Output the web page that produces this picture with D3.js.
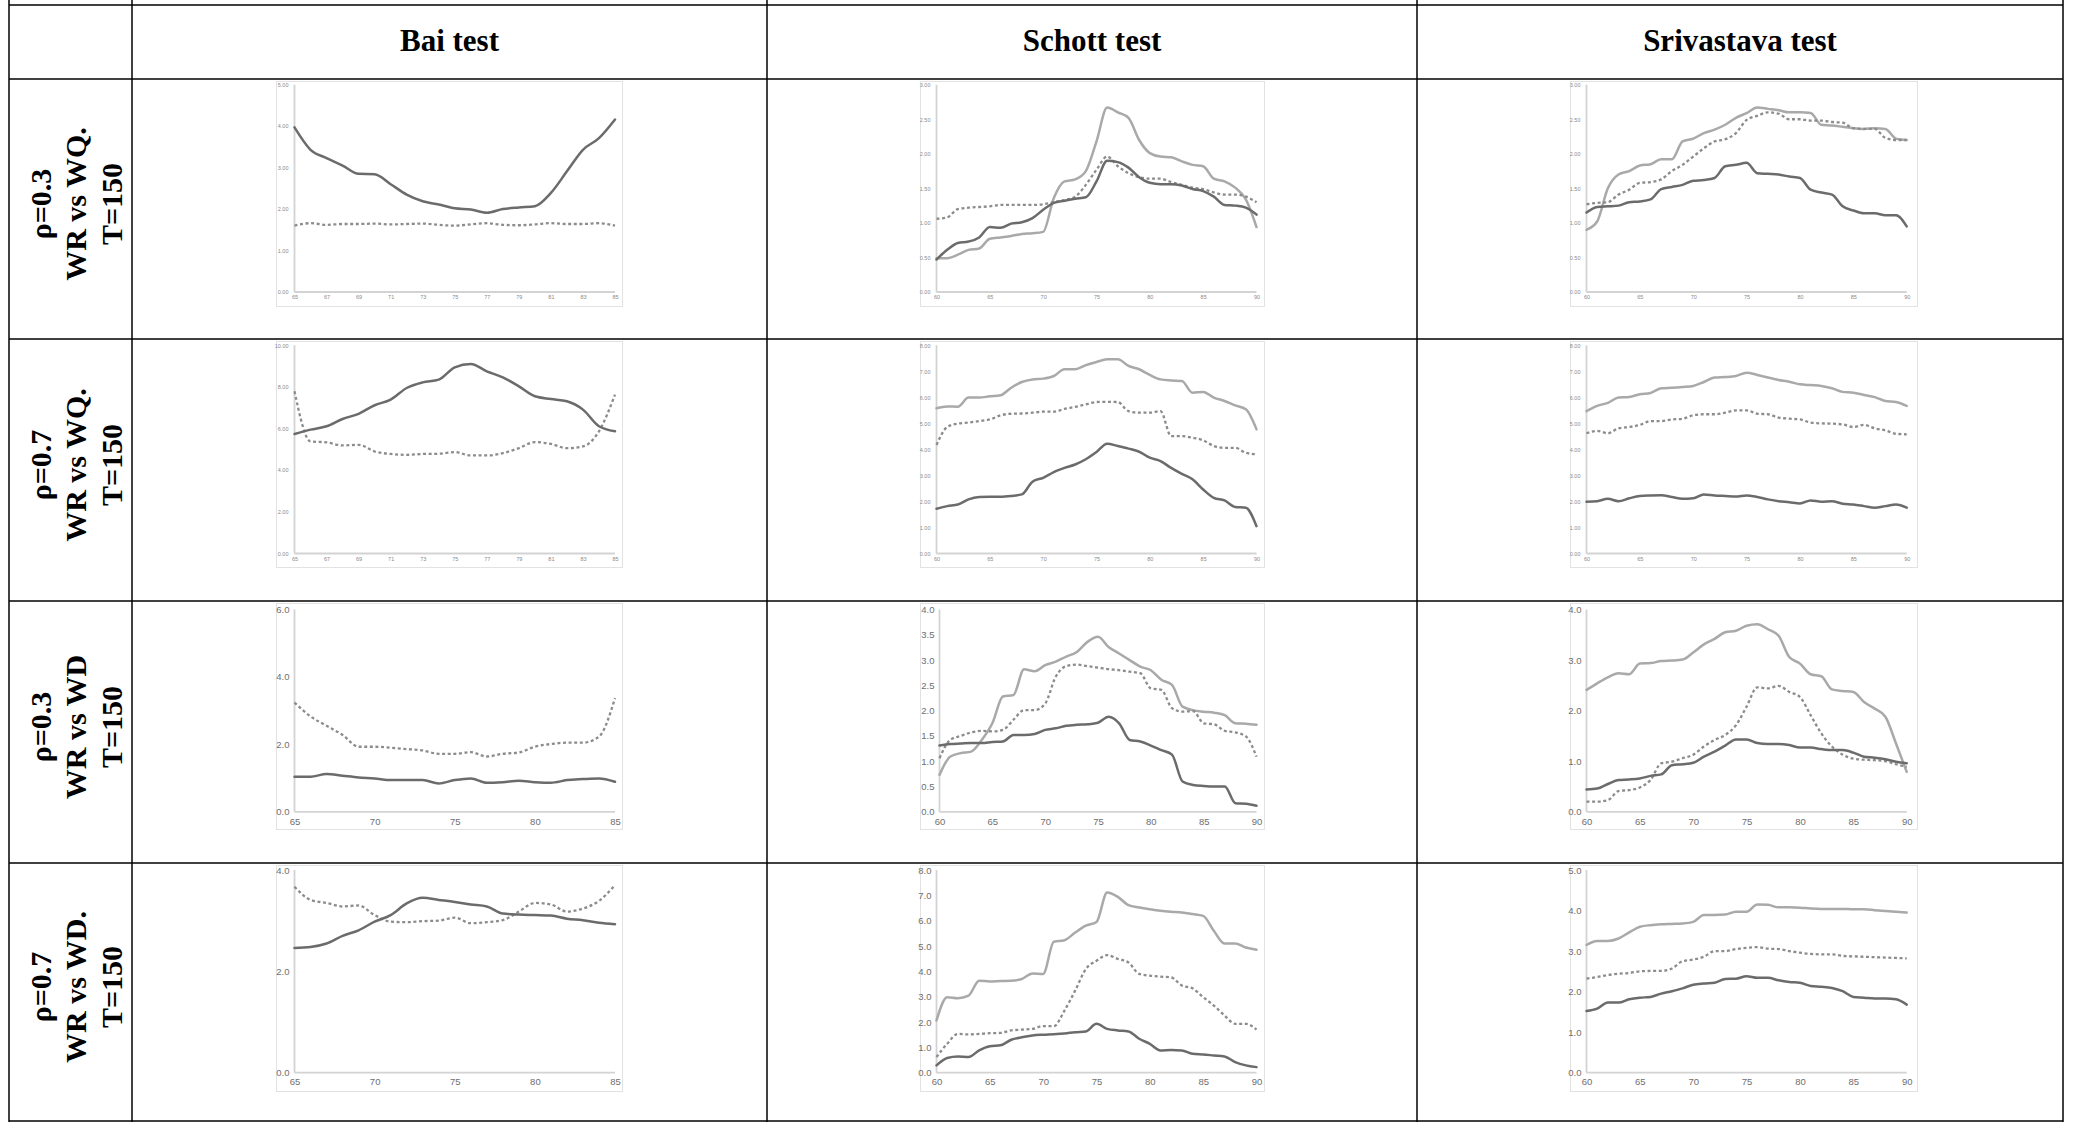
<!DOCTYPE html>
<html><head><meta charset="utf-8">
<script src="https://cdn.jsdelivr.net/npm/d3@7"></script>
<style>body{margin:0;background:#fff}svg{display:block}</style></head>
<body><svg id="c" width="2078" height="1122"></svg>
<script>
// ---------- DATA ----------
const colHeaders = ["Bai test", "Schott test", "Srivastava test"];
const rowLabels = [
  ["ρ=0.3", "WR vs WQ.", "T=150"],
  ["ρ=0.7", "WR vs WQ.", "T=150"],
  ["ρ=0.3", "WR vs WD", "T=150"],
  ["ρ=0.7", "WR vs WD.", "T=150"]
];
const yearsBai  = [65,66,67,68,69,70,71,72,73,74,75,76,77,78,79,80,81,82,83,84,85];
const yearsLong = [60,61,62,63,64,65,66,67,68,69,70,71,72,73,74,75,76,77,78,79,80,81,82,83,84,85,86,87,88,89,90];

const xTicksBai2 = [65,67,69,71,73,75,77,79,81,83,85];
const xTicksBai5 = [65,70,75,80,85];
const xTicksLong = [60,65,70,75,80,85,90];

const yTicksBai1 = [0,1,2,3,4,5];
const yTicksSchott1 = [0,0.5,1,1.5,2,2.5,3];
const yTicksSriv1 = [0,0.5,1,1.5,2,2.5,3];
const yTicksBai2 = [0,2,4,6,8,10];
const yTicksSchott2 = [0,1,2,3,4,5,6,7,8];
const yTicksSriv2 = [0,1,2,3,4,5,6,7,8];
const yTicksBai3 = [0,2,4,6];
const yTicksSchott3 = [0,0.5,1,1.5,2,2.5,3,3.5,4];
const yTicksSriv3 = [0,1,2,3,4];
const yTicksBai4 = [0,2,4];
const yTicksSchott4 = [0,1,2,3,4,5,6,7,8];
const yTicksSriv4 = [0,1,2,3,4,5];

// Row 1: rho=0.3, WR vs WQ
const bai1Dark = [3.97,3.43,3.23,3.05,2.85,2.84,2.60,2.35,2.19,2.11,2.02,1.99,1.91,2.00,2.04,2.07,2.39,2.91,3.43,3.71,4.16];
const bai1Dash = [1.60,1.66,1.62,1.64,1.64,1.65,1.63,1.64,1.65,1.62,1.60,1.63,1.66,1.62,1.61,1.63,1.66,1.64,1.64,1.66,1.60];
const schott1Dark  = [0.47,0.61,0.71,0.73,0.79,0.94,0.93,0.99,1.01,1.07,1.19,1.29,1.32,1.35,1.37,1.60,1.90,1.88,1.80,1.66,1.58,1.56,1.56,1.54,1.49,1.46,1.38,1.26,1.25,1.22,1.12];
const schott1Dash  = [1.06,1.08,1.20,1.22,1.23,1.24,1.26,1.26,1.26,1.26,1.27,1.30,1.33,1.38,1.55,1.77,1.96,1.82,1.72,1.66,1.64,1.64,1.59,1.55,1.51,1.49,1.44,1.41,1.41,1.38,1.30];
const schott1Light = [0.49,0.49,0.54,0.61,0.63,0.77,0.79,0.81,0.84,0.85,0.87,1.36,1.60,1.63,1.75,2.18,2.67,2.60,2.52,2.20,2.01,1.96,1.95,1.89,1.84,1.82,1.64,1.60,1.51,1.34,0.94];
const sriv1Dark  = [1.15,1.23,1.24,1.25,1.30,1.31,1.34,1.49,1.52,1.55,1.61,1.62,1.65,1.82,1.84,1.87,1.72,1.71,1.70,1.67,1.65,1.48,1.44,1.41,1.24,1.18,1.14,1.14,1.11,1.11,0.95];
const sriv1Dash  = [1.27,1.29,1.30,1.41,1.48,1.58,1.59,1.63,1.75,1.84,1.96,2.08,2.18,2.21,2.30,2.49,2.55,2.60,2.58,2.50,2.50,2.48,2.48,2.46,2.45,2.37,2.36,2.36,2.23,2.20,2.20];
const sriv1Light = [0.90,1.02,1.50,1.70,1.75,1.83,1.85,1.92,1.92,2.18,2.22,2.30,2.35,2.42,2.52,2.59,2.67,2.65,2.63,2.60,2.60,2.59,2.42,2.41,2.39,2.37,2.36,2.37,2.36,2.22,2.20];

// Row 2: rho=0.7, WR vs WQ
const bai2Dark = [5.74,5.95,6.11,6.46,6.71,7.12,7.39,7.95,8.22,8.35,8.94,9.10,8.75,8.46,8.03,7.55,7.42,7.31,6.91,6.11,5.87];
const bai2Dash = [7.79,5.38,5.34,5.19,5.22,4.90,4.78,4.74,4.78,4.79,4.87,4.71,4.71,4.82,5.06,5.35,5.26,5.06,5.14,5.87,7.63];
const schott2Dark  = [1.72,1.82,1.88,2.08,2.17,2.18,2.18,2.21,2.27,2.76,2.91,3.13,3.29,3.42,3.62,3.90,4.22,4.13,4.03,3.91,3.68,3.55,3.29,3.06,2.85,2.46,2.14,2.04,1.79,1.76,1.05];
const schott2Dash  = [4.17,4.86,4.99,5.03,5.09,5.15,5.31,5.37,5.38,5.41,5.45,5.45,5.56,5.63,5.73,5.82,5.83,5.82,5.47,5.41,5.41,5.47,4.51,4.51,4.45,4.35,4.13,4.06,4.06,3.87,3.81];
const schott2Light = [5.58,5.65,5.64,5.99,5.99,6.04,6.08,6.37,6.59,6.69,6.72,6.82,7.08,7.08,7.24,7.36,7.46,7.46,7.21,7.08,6.86,6.69,6.65,6.63,6.18,6.21,5.99,5.86,5.69,5.54,4.77];
const sriv2Dark  = [1.99,2.01,2.10,2.01,2.12,2.21,2.23,2.24,2.17,2.10,2.12,2.27,2.23,2.21,2.19,2.23,2.17,2.08,2.01,1.97,1.92,2.04,1.99,2.01,1.91,1.88,1.82,1.76,1.82,1.88,1.76];
const sriv2Dash  = [4.62,4.71,4.62,4.81,4.86,4.94,5.09,5.09,5.15,5.18,5.31,5.35,5.35,5.41,5.50,5.50,5.37,5.35,5.22,5.18,5.15,5.03,5.00,4.99,4.96,4.86,4.94,4.81,4.73,4.60,4.58];
const sriv2Light = [5.47,5.67,5.79,5.99,6.01,6.12,6.17,6.35,6.37,6.40,6.44,6.59,6.76,6.78,6.82,6.95,6.86,6.76,6.67,6.60,6.50,6.47,6.44,6.35,6.21,6.18,6.09,6.01,5.86,5.82,5.67];

// Row 3: rho=0.3, WR vs WD
const bai3Dark = [1.04,1.04,1.12,1.07,1.02,0.99,0.94,0.94,0.94,0.84,0.94,0.99,0.86,0.88,0.92,0.88,0.86,0.94,0.97,0.99,0.89];
const bai3Dash = [3.24,2.83,2.55,2.28,1.93,1.93,1.90,1.86,1.82,1.72,1.72,1.77,1.64,1.72,1.76,1.93,2.01,2.05,2.05,2.23,3.37];
const schott3Dark  = [1.31,1.34,1.35,1.36,1.36,1.38,1.39,1.52,1.52,1.54,1.62,1.65,1.70,1.72,1.73,1.76,1.88,1.75,1.42,1.39,1.31,1.22,1.13,0.60,0.53,0.51,0.50,0.50,0.17,0.16,0.12];
const schott3Dash  = [1.06,1.42,1.50,1.57,1.60,1.59,1.62,1.82,2.01,2.01,2.14,2.67,2.88,2.91,2.88,2.85,2.82,2.80,2.77,2.74,2.44,2.41,2.05,1.98,1.99,1.75,1.73,1.60,1.57,1.49,1.09];
const schott3Light = [0.73,1.09,1.16,1.19,1.42,1.75,2.28,2.31,2.82,2.78,2.90,2.97,3.07,3.16,3.36,3.46,3.26,3.13,3.00,2.87,2.80,2.61,2.51,2.08,2.01,1.98,1.96,1.91,1.75,1.74,1.72];
const sriv3Dark  = [0.44,0.46,0.55,0.63,0.64,0.66,0.71,0.74,0.92,0.94,0.97,1.09,1.19,1.31,1.43,1.43,1.36,1.34,1.34,1.32,1.27,1.27,1.24,1.22,1.22,1.17,1.09,1.07,1.04,0.99,0.96];
const sriv3Dash  = [0.20,0.20,0.23,0.41,0.43,0.48,0.63,0.96,0.99,1.06,1.13,1.29,1.42,1.52,1.71,2.08,2.46,2.44,2.49,2.37,2.27,1.91,1.55,1.29,1.13,1.05,1.03,1.02,1.00,0.94,0.89];
const sriv3Light = [2.41,2.54,2.66,2.74,2.72,2.93,2.94,2.98,2.99,3.01,3.15,3.31,3.42,3.55,3.58,3.68,3.71,3.61,3.48,3.06,2.93,2.72,2.68,2.42,2.39,2.37,2.17,2.04,1.88,1.35,0.79];

// Row 4: rho=0.7, WR vs WD
const bai4Dark = [2.46,2.48,2.55,2.70,2.81,2.98,3.11,3.34,3.45,3.41,3.37,3.32,3.28,3.14,3.12,3.11,3.10,3.04,3.01,2.96,2.93];
const bai4Dash = [3.67,3.41,3.35,3.28,3.30,3.11,2.98,2.97,2.99,3.00,3.06,2.95,2.97,3.01,3.18,3.35,3.32,3.18,3.24,3.39,3.70];
const schott4Dark  = [0.29,0.58,0.64,0.62,0.88,1.04,1.08,1.30,1.40,1.47,1.50,1.52,1.55,1.60,1.63,1.93,1.73,1.67,1.63,1.34,1.14,0.88,0.90,0.88,0.75,0.72,0.68,0.64,0.42,0.29,0.22];
const schott4Dash  = [0.62,1.14,1.53,1.51,1.53,1.56,1.57,1.67,1.70,1.73,1.84,1.84,2.45,3.24,4.09,4.42,4.64,4.49,4.35,3.90,3.83,3.79,3.76,3.44,3.33,2.98,2.65,2.26,1.93,1.93,1.70];
const schott4Light = [2.06,2.98,2.94,3.04,3.63,3.60,3.62,3.63,3.70,3.92,3.90,5.17,5.23,5.53,5.80,5.95,7.11,6.94,6.61,6.52,6.45,6.39,6.35,6.32,6.26,6.19,5.60,5.10,5.10,4.94,4.85];
const sriv4Dark  = [1.52,1.58,1.73,1.73,1.81,1.85,1.87,1.95,2.01,2.08,2.17,2.20,2.22,2.31,2.32,2.38,2.34,2.34,2.28,2.24,2.22,2.14,2.12,2.09,2.01,1.87,1.85,1.83,1.83,1.81,1.68];
const sriv4Dash  = [2.32,2.36,2.41,2.44,2.46,2.50,2.51,2.51,2.57,2.75,2.79,2.86,3.00,3.00,3.05,3.08,3.10,3.06,3.05,3.00,2.96,2.93,2.92,2.92,2.88,2.87,2.86,2.85,2.84,2.83,2.82];
const sriv4Light = [3.15,3.25,3.25,3.31,3.46,3.60,3.64,3.66,3.67,3.68,3.72,3.89,3.89,3.90,3.97,3.97,4.15,4.14,4.08,4.08,4.07,4.05,4.04,4.04,4.04,4.03,4.03,4.01,3.99,3.97,3.95];

// ---------- PANEL WIRING ----------
const panels = [
  {r:0,c:0,x:yearsBai, xt:xTicksBai2, yt:yTicksBai1,   fmt:".2f", s:[["dash",bai1Dash],["dark",bai1Dark]]},
  {r:0,c:1,x:yearsLong,xt:xTicksLong, yt:yTicksSchott1,fmt:".2f", s:[["light",schott1Light],["dash",schott1Dash],["dark",schott1Dark]]},
  {r:0,c:2,x:yearsLong,xt:xTicksLong, yt:yTicksSriv1,  fmt:".2f", s:[["light",sriv1Light],["dash",sriv1Dash],["dark",sriv1Dark]]},
  {r:1,c:0,x:yearsBai, xt:xTicksBai2, yt:yTicksBai2,   fmt:".2f", s:[["dash",bai2Dash],["dark",bai2Dark]]},
  {r:1,c:1,x:yearsLong,xt:xTicksLong, yt:yTicksSchott2,fmt:".2f", s:[["light",schott2Light],["dash",schott2Dash],["dark",schott2Dark]]},
  {r:1,c:2,x:yearsLong,xt:xTicksLong, yt:yTicksSriv2,  fmt:".2f", s:[["light",sriv2Light],["dash",sriv2Dash],["dark",sriv2Dark]]},
  {r:2,c:0,x:yearsBai, xt:xTicksBai5, yt:yTicksBai3,   fmt:".1f", s:[["dash",bai3Dash],["dark",bai3Dark]]},
  {r:2,c:1,x:yearsLong,xt:xTicksLong, yt:yTicksSchott3,fmt:".1f", s:[["light",schott3Light],["dash",schott3Dash],["dark",schott3Dark]], dl:3},
  {r:2,c:2,x:yearsLong,xt:xTicksLong, yt:yTicksSriv3,  fmt:".1f", s:[["light",sriv3Light],["dash",sriv3Dash],["dark",sriv3Dark]]},
  {r:3,c:0,x:yearsBai, xt:xTicksBai5, yt:yTicksBai4,   fmt:".1f", s:[["dash",bai4Dash],["dark",bai4Dark]]},
  {r:3,c:1,x:yearsLong,xt:xTicksLong, yt:yTicksSchott4,fmt:".1f", s:[["light",schott4Light],["dash",schott4Dash],["dark",schott4Dark]]},
  {r:3,c:2,x:yearsLong,xt:xTicksLong, yt:yTicksSriv4,  fmt:".1f", s:[["light",sriv4Light],["dash",sriv4Dash],["dark",sriv4Dark]]}
];

// ---------- LAYOUT ----------
const W = 2078, H = 1122;
const colX = [9, 132, 767, 1417, 2063];
const rowY = [5, 79, 339, 601, 863, 1121];
const plotRows = [{t:84.7,b:292},{t:345.3,b:553.5},{t:609.5,b:811.8},{t:870,b:1072.7}];
const plotCols = [{l:294.5,r:615},{l:936.5,r:1256.5},{l:1586.5,r:1906.7}];
const boxCols = [[276,622],[920,1264],[1570,1917]];
const boxRows = [[81,306],[341,567],[603,829],[865,1091]];
const styles = {
  dark:  {stroke:"#6b6b6b", w:2.5, dash:null},
  dash:  {stroke:"#8c8c8c", w:2.3, dash:"3,2.6"},
  light: {stroke:"#a9a9a9", w:2.5, dash:null}
};

const svg = d3.select("#c");
svg.append("rect").attr("width",W).attr("height",H).attr("fill","#fff");

// image frames
boxRows.forEach(br => boxCols.forEach(bc => {
  svg.append("rect").attr("x",bc[0]+0.5).attr("y",br[0]+0.5)
    .attr("width",bc[1]-bc[0]).attr("height",br[1]-br[0])
    .attr("fill","#fff").attr("stroke","#e2e2e2").attr("stroke-width",1);
}));

panels.forEach(p => {
  const pr = plotRows[p.r], pc = plotCols[p.c];
  const left = pc.l + (p.dl||0);
  const x = d3.scaleLinear().domain(d3.extent(p.x)).range([left, pc.r]);
  const y = d3.scaleLinear().domain([0, d3.max(p.yt)]).range([pr.b, pr.t]);
  const small = p.r < 2;
  const fs = small ? 5.5 : 9.5;
  const g = svg.append("g");
  const ax = g.append("g").attr("transform",`translate(0,${pr.b})`)
    .call(d3.axisBottom(x).tickValues(p.xt).tickSize(0).tickSizeOuter(0)
      .tickPadding(small?3.5:6).tickFormat(d3.format("d")));
  const ay = g.append("g").attr("transform",`translate(${left},0)`)
    .call(d3.axisLeft(y).tickValues(p.yt).tickSize(0).tickSizeOuter(0)
      .tickPadding(small?6:5).tickFormat(d3.format(p.fmt)));
  [ax, ay].forEach(a => {
    a.select(".domain").attr("stroke","#d3d3d3").attr("stroke-width",1.8);
    a.selectAll("text").attr("font-family","'Liberation Sans', Arial, sans-serif")
      .attr("font-size",fs).attr("fill", small ? "#8a8a8a" : "#6e6e6e");
  });
  ay.select(".domain").attr("d",`M0,${pr.b}V${pr.t}`);
  ax.select(".domain").attr("d",`M${left},0H${pc.r}`);
  p.s.forEach(([kind, vals]) => {
    const st = styles[kind];
    const line = d3.line().x((d,i) => x(p.x[i])).y(d => y(d)).curve(d3.curveMonotoneX);
    g.append("path").datum(vals).attr("d",line).attr("fill","none")
      .attr("stroke",st.stroke).attr("stroke-width",st.w)
      .attr("stroke-linejoin","round").attr("stroke-linecap", st.dash ? "butt" : "round")
      .attr("stroke-dasharray",st.dash);
  });
});

// table grid
const grid = svg.append("g").attr("stroke","#000").attr("stroke-width",1.5);
rowY.forEach(yy => grid.append("line").attr("x1",colX[0]).attr("x2",colX[4]).attr("y1",yy).attr("y2",yy));
colX.forEach(xx => grid.append("line").attr("x1",xx).attr("x2",xx).attr("y1",0).attr("y2",H));

// headers
colHeaders.forEach((h,i) => {
  svg.append("text").attr("x",(colX[i+1]+colX[i+2])/2).attr("y",(rowY[0]+rowY[1])/2-2)
    .attr("text-anchor","middle").attr("dominant-baseline","central")
    .attr("font-family","'Liberation Serif','Times New Roman',serif").attr("font-weight","bold")
    .attr("font-size",31).attr("fill","#000").text(h);
});

// row labels (rotated)
const lineX = [40, 75.5, 111];
rowLabels.forEach((lines,r) => {
  const cy = (rowY[r+1]+rowY[r+2])/2 - 5;
  lines.forEach((t,k) => {
    svg.append("text").attr("transform",`translate(${lineX[k]},${cy}) rotate(-90)`)
      .attr("text-anchor","middle").attr("dominant-baseline","central")
      .attr("font-family","'Liberation Serif','Times New Roman',serif").attr("font-weight","bold")
      .attr("font-size",30).attr("fill","#000").text(t);
  });
});
</script>
</body></html>
